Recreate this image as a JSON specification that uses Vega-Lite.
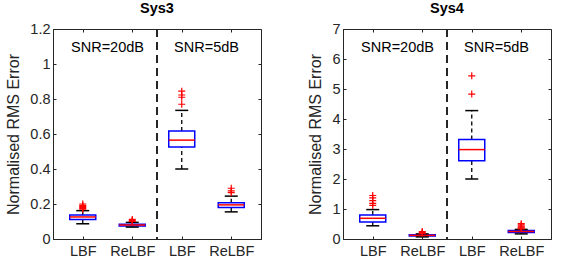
{
  "$schema": "https://vega.github.io/schema/vega-lite/v6.json",
  "padding": {"left": 5, "top": 0, "right": 5, "bottom": 0},
  "config": {
    "font": "Liberation Sans",
    "view": {"stroke": "#262626", "strokeWidth": 1},
    "axis": {
      "labelFont": "Liberation Sans", "labelFontSize": 14.5, "labelColor": "#262626", "labelOverlap": false,
      "titleFont": "Liberation Sans", "titleFontSize": 16, "titleFontWeight": "normal", "titleColor": "#262626",
      "domainColor": "#262626", "tickColor": "#262626", "grid": false, "tickSize": -3, "tickCount": 20
    },
    "title": {"font": "Liberation Sans", "fontSize": 14.5, "fontWeight": "bold", "color": "#000000", "offset": 5, "frame": "group"},
    "concat": {"spacing": 45}
  },
  "datasets": {
    "boxes": [
      {"sys": "Sys3", "pos": 1, "lower": 0.087, "q1": 0.112, "median": 0.126, "q3": 0.137, "upper": 0.162},
      {"sys": "Sys3", "pos": 2, "lower": 0.068, "q1": 0.075, "median": 0.080, "q3": 0.085, "upper": 0.095},
      {"sys": "Sys3", "pos": 3, "lower": 0.40, "q1": 0.526, "median": 0.565, "q3": 0.617, "upper": 0.735},
      {"sys": "Sys3", "pos": 4, "lower": 0.155, "q1": 0.18, "median": 0.195, "q3": 0.207, "upper": 0.245},
      {"sys": "Sys4", "pos": 1, "lower": 0.44, "q1": 0.57, "median": 0.69, "q3": 0.80, "upper": 0.98},
      {"sys": "Sys4", "pos": 2, "lower": 0.07, "q1": 0.10, "median": 0.12, "q3": 0.14, "upper": 0.17},
      {"sys": "Sys4", "pos": 3, "lower": 2.0, "q1": 2.61, "median": 2.98, "q3": 3.32, "upper": 4.28},
      {"sys": "Sys4", "pos": 4, "lower": 0.17, "q1": 0.22, "median": 0.25, "q3": 0.28, "upper": 0.32}
    ],
    "outliers": [
      {"sys": "Sys3", "pos": 1, "value": 0.17},
      {"sys": "Sys3", "pos": 1, "value": 0.175},
      {"sys": "Sys3", "pos": 1, "value": 0.18},
      {"sys": "Sys3", "pos": 1, "value": 0.186},
      {"sys": "Sys3", "pos": 1, "value": 0.192},
      {"sys": "Sys3", "pos": 1, "value": 0.2},
      {"sys": "Sys3", "pos": 2, "value": 0.1},
      {"sys": "Sys3", "pos": 2, "value": 0.105},
      {"sys": "Sys3", "pos": 2, "value": 0.112},
      {"sys": "Sys3", "pos": 3, "value": 0.77},
      {"sys": "Sys3", "pos": 3, "value": 0.81},
      {"sys": "Sys3", "pos": 3, "value": 0.823},
      {"sys": "Sys3", "pos": 3, "value": 0.845},
      {"sys": "Sys3", "pos": 4, "value": 0.265},
      {"sys": "Sys3", "pos": 4, "value": 0.275},
      {"sys": "Sys3", "pos": 4, "value": 0.29},
      {"sys": "Sys4", "pos": 1, "value": 1.12},
      {"sys": "Sys4", "pos": 1, "value": 1.19},
      {"sys": "Sys4", "pos": 1, "value": 1.28},
      {"sys": "Sys4", "pos": 1, "value": 1.37},
      {"sys": "Sys4", "pos": 1, "value": 1.45},
      {"sys": "Sys4", "pos": 2, "value": 0.19},
      {"sys": "Sys4", "pos": 2, "value": 0.22},
      {"sys": "Sys4", "pos": 2, "value": 0.25},
      {"sys": "Sys4", "pos": 3, "value": 4.83},
      {"sys": "Sys4", "pos": 3, "value": 5.44},
      {"sys": "Sys4", "pos": 4, "value": 0.34},
      {"sys": "Sys4", "pos": 4, "value": 0.37},
      {"sys": "Sys4", "pos": 4, "value": 0.40},
      {"sys": "Sys4", "pos": 4, "value": 0.43},
      {"sys": "Sys4", "pos": 4, "value": 0.47},
      {"sys": "Sys4", "pos": 4, "value": 0.51}
    ],
    "labels": [
      {"sys": "Sys3", "x": 1.5, "y": 1.09, "label": "SNR=20dB"},
      {"sys": "Sys3", "x": 3.5, "y": 1.09, "label": "SNR=5dB"},
      {"sys": "Sys4", "x": 1.5, "y": 6.37, "label": "SNR=20dB"},
      {"sys": "Sys4", "x": 3.5, "y": 6.37, "label": "SNR=5dB"}
    ],
    "sep": [{"x": 2.5}]
  },
  "hconcat": [
    {
      "title": "Sys3",
      "width": 208,
      "height": 210,
      "resolve": {"axis": {"x": "independent", "y": "independent"}},
      "layer": [
        {
          "layer": [
            {
              "data": {"name": "boxes"},
              "transform": [{"filter": "datum.sys == 'Sys3'"}],
              "mark": {"type": "rule", "color": "#000000", "strokeDash": [4, 3], "strokeWidth": 1.3},
              "encoding": {
                "x": {"field": "pos", "type": "quantitative", "title": null, "scale": {"domain": [0.5, 4.5], "nice": false},
                      "axis": {"values": [1, 2, 3, 4], "tickCount": 20, "labelExpr": "datum.value % 2 == 1 ? 'LBF' : 'ReLBF'", "labelPadding": 8, "labelOverlap": false}},
                "y": {"field": "q3", "type": "quantitative", "title": "Normalised RMS Error", "scale": {"domain": [0, 1.2], "nice": false},
                      "axis": {"values": [0, 0.2, 0.4, 0.6, 0.8, 1, 1.2], "tickCount": 20, "format": "~g", "labelPadding": 6, "titlePadding": 8, "labelOverlap": false}},
                "y2": {"field": "upper"}
              }
            },
            {
              "data": {"name": "boxes"},
              "transform": [{"filter": "datum.sys == 'Sys3'"}],
              "mark": {"type": "rule", "color": "#000000", "strokeDash": [4, 3], "strokeWidth": 1.3},
              "encoding": {
                "x": {"field": "pos", "type": "quantitative", "title": null},
                "y": {"field": "lower", "type": "quantitative", "title": "Normalised RMS Error"},
                "y2": {"field": "q1"}
              }
            },
            {
              "data": {"name": "boxes"},
              "transform": [{"filter": "datum.sys == 'Sys3'"}],
              "mark": {"type": "bar", "width": 26, "fill": "#ffffff", "fillOpacity": 0, "stroke": "#0000FF", "strokeWidth": 1.5},
              "encoding": {
                "x": {"field": "pos", "type": "quantitative", "title": null},
                "y": {"field": "q1", "type": "quantitative", "title": "Normalised RMS Error"},
                "y2": {"field": "q3"}
              }
            },
            {
              "data": {"name": "boxes"},
              "transform": [{"filter": "datum.sys == 'Sys3'"}],
              "mark": {"type": "tick", "orient": "horizontal", "size": 13, "thickness": 1.5, "color": "#000000", "opacity": 1},
              "encoding": {
                "x": {"field": "pos", "type": "quantitative", "title": null},
                "y": {"field": "upper", "type": "quantitative", "title": "Normalised RMS Error"}
              }
            },
            {
              "data": {"name": "boxes"},
              "transform": [{"filter": "datum.sys == 'Sys3'"}],
              "mark": {"type": "tick", "orient": "horizontal", "size": 13, "thickness": 1.5, "color": "#000000", "opacity": 1},
              "encoding": {
                "x": {"field": "pos", "type": "quantitative", "title": null},
                "y": {"field": "lower", "type": "quantitative", "title": "Normalised RMS Error"}
              }
            },
            {
              "data": {"name": "boxes"},
              "transform": [{"filter": "datum.sys == 'Sys3'"}],
              "mark": {"type": "tick", "orient": "horizontal", "size": 26, "thickness": 1.5, "color": "#FF0000", "opacity": 1},
              "encoding": {
                "x": {"field": "pos", "type": "quantitative", "title": null},
                "y": {"field": "median", "type": "quantitative", "title": "Normalised RMS Error"}
              }
            },
            {
              "data": {"name": "outliers"},
              "transform": [{"filter": "datum.sys == 'Sys3'"}],
              "mark": {"type": "point", "shape": "M-1,0H1M0,-1V1", "size": 49, "filled": false, "stroke": "#FF0000", "strokeWidth": 1.2, "opacity": 1},
              "encoding": {
                "x": {"field": "pos", "type": "quantitative", "title": null},
                "y": {"field": "value", "type": "quantitative", "title": "Normalised RMS Error"}
              }
            },
            {
              "data": {"name": "sep"},
              "mark": {"type": "rule", "color": "#262626", "strokeWidth": 2, "strokeDash": [8, 5]},
              "encoding": {
                "x": {"field": "x", "type": "quantitative", "title": null}
              }
            },
            {
              "data": {"name": "labels"},
              "transform": [{"filter": "datum.sys == 'Sys3'"}],
              "mark": {"type": "text", "font": "Liberation Sans", "fontSize": 14.5, "color": "#000000"},
              "encoding": {
                "x": {"field": "x", "type": "quantitative", "title": null},
                "y": {"field": "y", "type": "quantitative", "title": "Normalised RMS Error"},
                "text": {"field": "label"}
              }
            }
          ]
        },
        {
          "data": {"name": "boxes"},
          "transform": [{"filter": "datum.sys == 'Sys3'"}],
          "mark": {"type": "point", "opacity": 0},
          "encoding": {
            "x": {"field": "pos", "type": "quantitative", "title": null,
                  "axis": {"orient": "top", "values": [1, 2, 3, 4], "tickCount": 20, "labels": false, "domain": false, "title": null}},
            "y": {"field": "q1", "type": "quantitative", "title": null,
                  "axis": {"orient": "right", "values": [0, 0.2, 0.4, 0.6, 0.8, 1, 1.2], "tickCount": 20, "labels": false, "domain": false, "title": null}}
          }
        }
      ]
    },
    {
      "title": "Sys4",
      "width": 208,
      "height": 210,
      "resolve": {"axis": {"x": "independent", "y": "independent"}},
      "layer": [
        {
          "layer": [
            {
              "data": {"name": "boxes"},
              "transform": [{"filter": "datum.sys == 'Sys4'"}],
              "mark": {"type": "rule", "color": "#000000", "strokeDash": [4, 3], "strokeWidth": 1.3},
              "encoding": {
                "x": {"field": "pos", "type": "quantitative", "title": null, "scale": {"domain": [0.5, 4.5], "nice": false},
                      "axis": {"values": [1, 2, 3, 4], "tickCount": 20, "labelExpr": "datum.value % 2 == 1 ? 'LBF' : 'ReLBF'", "labelPadding": 8, "labelOverlap": false}},
                "y": {"field": "q3", "type": "quantitative", "title": "Normalised RMS Error", "scale": {"domain": [0, 7], "nice": false},
                      "axis": {"values": [0, 1, 2, 3, 4, 5, 6, 7], "tickCount": 20, "format": "~g", "labelPadding": 6, "titlePadding": 8, "labelOverlap": false}},
                "y2": {"field": "upper"}
              }
            },
            {
              "data": {"name": "boxes"},
              "transform": [{"filter": "datum.sys == 'Sys4'"}],
              "mark": {"type": "rule", "color": "#000000", "strokeDash": [4, 3], "strokeWidth": 1.3},
              "encoding": {
                "x": {"field": "pos", "type": "quantitative", "title": null},
                "y": {"field": "lower", "type": "quantitative", "title": "Normalised RMS Error"},
                "y2": {"field": "q1"}
              }
            },
            {
              "data": {"name": "boxes"},
              "transform": [{"filter": "datum.sys == 'Sys4'"}],
              "mark": {"type": "bar", "width": 26, "fill": "#ffffff", "fillOpacity": 0, "stroke": "#0000FF", "strokeWidth": 1.5},
              "encoding": {
                "x": {"field": "pos", "type": "quantitative", "title": null},
                "y": {"field": "q1", "type": "quantitative", "title": "Normalised RMS Error"},
                "y2": {"field": "q3"}
              }
            },
            {
              "data": {"name": "boxes"},
              "transform": [{"filter": "datum.sys == 'Sys4'"}],
              "mark": {"type": "tick", "orient": "horizontal", "size": 13, "thickness": 1.5, "color": "#000000", "opacity": 1},
              "encoding": {
                "x": {"field": "pos", "type": "quantitative", "title": null},
                "y": {"field": "upper", "type": "quantitative", "title": "Normalised RMS Error"}
              }
            },
            {
              "data": {"name": "boxes"},
              "transform": [{"filter": "datum.sys == 'Sys4'"}],
              "mark": {"type": "tick", "orient": "horizontal", "size": 13, "thickness": 1.5, "color": "#000000", "opacity": 1},
              "encoding": {
                "x": {"field": "pos", "type": "quantitative", "title": null},
                "y": {"field": "lower", "type": "quantitative", "title": "Normalised RMS Error"}
              }
            },
            {
              "data": {"name": "boxes"},
              "transform": [{"filter": "datum.sys == 'Sys4'"}],
              "mark": {"type": "tick", "orient": "horizontal", "size": 26, "thickness": 1.5, "color": "#FF0000", "opacity": 1},
              "encoding": {
                "x": {"field": "pos", "type": "quantitative", "title": null},
                "y": {"field": "median", "type": "quantitative", "title": "Normalised RMS Error"}
              }
            },
            {
              "data": {"name": "outliers"},
              "transform": [{"filter": "datum.sys == 'Sys4'"}],
              "mark": {"type": "point", "shape": "M-1,0H1M0,-1V1", "size": 49, "filled": false, "stroke": "#FF0000", "strokeWidth": 1.2, "opacity": 1},
              "encoding": {
                "x": {"field": "pos", "type": "quantitative", "title": null},
                "y": {"field": "value", "type": "quantitative", "title": "Normalised RMS Error"}
              }
            },
            {
              "data": {"name": "sep"},
              "mark": {"type": "rule", "color": "#262626", "strokeWidth": 2, "strokeDash": [8, 5]},
              "encoding": {
                "x": {"field": "x", "type": "quantitative", "title": null}
              }
            },
            {
              "data": {"name": "labels"},
              "transform": [{"filter": "datum.sys == 'Sys4'"}],
              "mark": {"type": "text", "font": "Liberation Sans", "fontSize": 14.5, "color": "#000000"},
              "encoding": {
                "x": {"field": "x", "type": "quantitative", "title": null},
                "y": {"field": "y", "type": "quantitative", "title": "Normalised RMS Error"},
                "text": {"field": "label"}
              }
            }
          ]
        },
        {
          "data": {"name": "boxes"},
          "transform": [{"filter": "datum.sys == 'Sys4'"}],
          "mark": {"type": "point", "opacity": 0},
          "encoding": {
            "x": {"field": "pos", "type": "quantitative", "title": null,
                  "axis": {"orient": "top", "values": [1, 2, 3, 4], "tickCount": 20, "labels": false, "domain": false, "title": null}},
            "y": {"field": "q1", "type": "quantitative", "title": null,
                  "axis": {"orient": "right", "values": [0, 1, 2, 3, 4, 5, 6, 7], "tickCount": 20, "labels": false, "domain": false, "title": null}}
          }
        }
      ]
    }
  ]
}
